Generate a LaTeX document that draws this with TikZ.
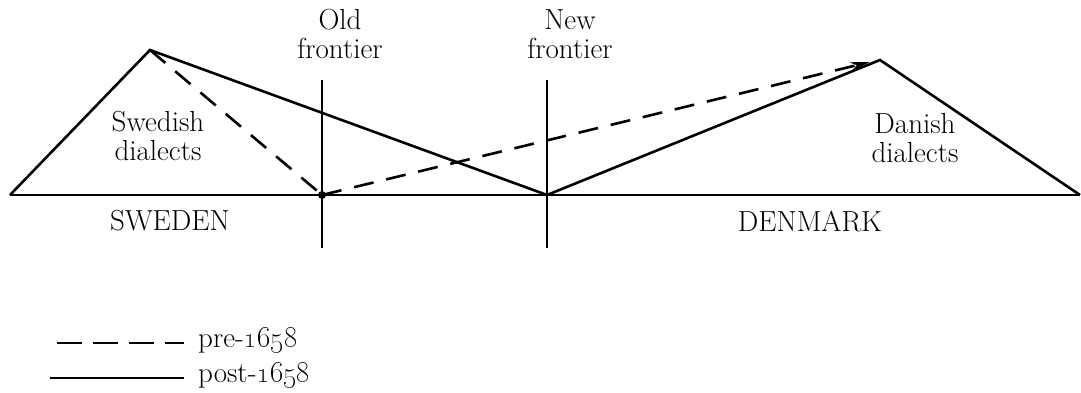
\documentclass[tikz,border=0pt]{standalone}
\usetikzlibrary{arrows.meta}
\begin{document}
\begin{tikzpicture}[x=1pt,y=-1pt,
  ln/.style={line width=2.6pt},
  dsh/.style={line width=2.6pt,dash pattern=on 20pt off 13pt},
  lbl/.style={font=\fontsize{29}{29}\selectfont,inner sep=0pt,align=center},
  leg/.style={font=\fontsize{29}{29}\selectfont,inner sep=0pt,anchor=west}]
\useasboundingbox (0,0) rectangle (1081,393);
% points
\coordinate (L) at (10,195);
\coordinate (R) at (1080,195);
\coordinate (SP) at (150,50);
\coordinate (DP) at (880,60);
\coordinate (OF) at (322,195);
\coordinate (NF) at (547,195);
\coordinate (OFt) at (322,80);
\coordinate (OFb) at (322,248);
\coordinate (NFt) at (547,80);
\coordinate (NFb) at (547,248);
\coordinate (Dend) at (870,62);
% base and frontiers
\draw[ln] (L) -- (R);
\draw[ln] (OFt) -- (OFb);
\draw[ln] (NFt) -- (NFb);
% post-1658 (solid)
\draw[ln,line join=miter] (L) -- (SP) -- (NF) -- (DP) -- (R);
% pre-1658 (dashed)
\draw[dsh] (SP) -- (OF);
\draw[dsh,-{Stealth[length=20pt,width=9pt]}] (OF) -- (Dend);
\fill (OF) circle (4pt);
% labels
\node[lbl] (old) at (340,34) {Old\\frontier};
\node[lbl] (new) at (570,34) {New\\frontier};
\node[lbl] (sw) at (158,136) {Swedish\\dialects};
\node[lbl] (dk) at (915,138) {Danish\\dialects};
\node[lbl] (swe) at (170,221) {SWEDEN};
\node[lbl] (den) at (810,221) {DENMARK};
% legend
\coordinate (d1) at (57,343);
\coordinate (d2) at (184,343);
\coordinate (s1) at (50,378);
\coordinate (s2) at (184,378);
\draw[dsh,dash pattern=on 25pt off 11pt] (d1) -- (d2);
\draw[ln] (s1) -- (s2);
\node[leg] (pre) at (198,341) {pre-\oldstylenums{1658}};
\node[leg] (post) at (198,376) {post-\oldstylenums{1658}};
\end{tikzpicture}
\end{document}
